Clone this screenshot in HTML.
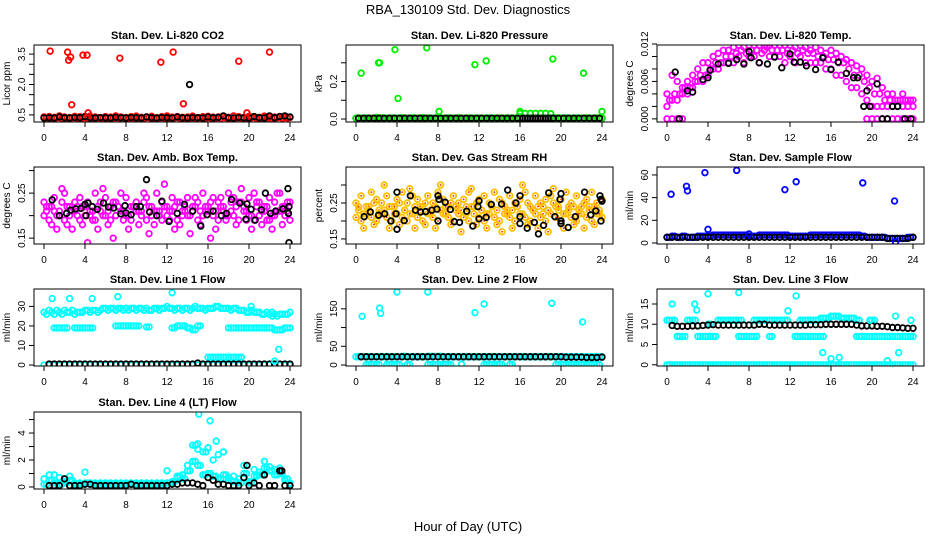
<!DOCTYPE html>
<html><head><meta charset="utf-8">
<style>
html,body{margin:0;padding:0;background:#fff;}
svg{display:block;font-family:"Liberation Sans",Arial,sans-serif;}
</style></head>
<body>
<svg id="chart" width="936" height="540" viewBox="0 0 936 540">
<text x="468" y="14" text-anchor="middle" font-size="13">RBA_130109  Std. Dev. Diagnostics</text>
<text x="468" y="531" text-anchor="middle" font-size="13">Hour of Day (UTC)</text>
</svg>
<script>
const H=[0,0.5,1,1.5,2,2.5,3,3.5,4,4.5,5,5.5,6,6.5,7,7.5,8,8.5,9,9.5,10,10.5,11,11.5,12,12.5,13,13.5,14,14.5,15,15.5,16,16.5,17,17.5,18,18.5,19,19.5,20,20.5,21,21.5,22,22.5,23,23.5,24];
const Hq=[0.25,0.75,1.25,1.75,2.25,2.75,3.25,3.75,4.25,4.75,5.25,5.75,6.25,6.75,7.25,7.75,8.25,8.75,9.25,9.75,10.25,10.75,11.25,11.75,12.25,12.75,13.25,13.75,14.25,14.75,15.25,15.75,16.25,16.75,17.25,17.75,18.25,18.75,19.25,19.75,20.25,20.75,21.25,21.75,22.25,22.75,23.25,23.75];
const xTicks=[0,4,8,12,16,20,24];

// CO2
const co2Red=[0.4,0.42,0.38,0.45,0.4,0.37,0.43,0.41,0.38,0.44,0.4,0.36,0.42,0.39,0.45,0.4,0.37,0.41,0.44,0.38,0.4,0.43,0.36,0.41,0.45,0.39,0.42,0.38,0.4,0.44,0.37,0.41,0.43,0.39,0.4,0.42,0.38,0.45,0.41,0.37,0.43,0.4,0.38,0.44,0.41,0.39,0.42,0.4,0.38];
const co2Red2=[0.35,0.33,0.36,0.32,0.34,0.36,0.33,0.35,0.32,0.34,0.36,0.33,0.35,0.34,0.32,0.36,0.33,0.35,0.34,0.32,0.36,0.33,0.35,0.34,0.32,0.36,0.33,0.35,0.34,0.32,0.36,0.33,0.35,0.34,0.32,0.36,0.33,0.35,0.34,0.32,0.36,0.33,0.35,0.34,0.32,0.36,0.33,0.35];
const co2Black=[0.35,0.36,0.35,0.4,0.36,0.35,0.37,0.36,0.42,0.36,0.35,0.37,0.36,0.35,0.38,0.36,0.35,0.37,0.36,0.35,0.4,0.36,0.35,0.37,0.36,0.35,0.4,0.36,0.35,0.37,0.36,0.35,0.4,0.36,0.38,0.45,0.36,0.35,0.37,0.36,0.35,0.42,0.36,0.35,0.45,0.36,0.42,0.45,0.4];
const co2Out=[[0.6,3.65],[2.3,3.6],[2.4,3.2],[2.6,3.35],[2.7,1.0],[3.8,3.45],[4.2,3.45],[4.3,0.6],[7.4,3.3],[11.4,3.1],[12.6,3.6],[13.6,1.05],[19.0,3.15],[19.8,0.6],[22.0,3.6]];
const co2BlkOut=[[14.2,2.0]];

// Pressure
const presGreen=[0.005,0.005,0.006,0.005,0.008,0.006,0.005,0.006,0.005,0.007,0.005,0.006,0.005,0.007,0.006,0.005,0.006,0.005,0.006,0.005,0.007,0.005,0.006,0.005,0.006,0.005,0.006,0.005,0.006,0.005,0.006,0.005,0.03,0.03,0.03,0.03,0.03,0.03,0.028,0.006,0.005,0.006,0.005,0.006,0.005,0.006,0.005,0.006,0.005];
const presBlack=[0.004,0.004,0.004,0.004,0.004,0.004,0.004,0.004,0.004,0.004,0.004,0.004,0.004,0.004,0.004,0.004,0.004,0.004,0.004,0.004,0.004,0.004,0.004,0.004,0.004,0.004,0.004,0.004,0.004,0.004,0.004,0.004,0.004,0.004,0.004,0.004,0.004,0.004,0.004,0.004,0.004,0.004,0.004,0.004,0.004,0.004,0.004,0.004,0.004];
const presOut=[[0.5,0.245],[2.2,0.3],[2.3,0.3],[3.8,0.37],[4.1,0.11],[6.9,0.38],[8.1,0.04],[11.6,0.29],[12.7,0.31],[16.0,0.04],[19.2,0.32],[22.2,0.245],[24,0.04]];

// Temp
const tempHi=[0.004,0.007,0.006,0.005,0.006,0.007,0.008,0.009,0.009,0.01,0.0105,0.011,0.011,0.0115,0.0118,0.0115,0.0118,0.0118,0.0118,0.0118,0.0118,0.0118,0.0118,0.0118,0.0118,0.0115,0.0118,0.0115,0.011,0.0115,0.011,0.0105,0.011,0.0105,0.01,0.0095,0.009,0.0085,0.008,0.007,0.006,0.0065,0.005,0.004,0.004,0.003,0.004,0.003,0.003];
const tempMid=[0.003,0.004,0.004,0.005,0.005,0.006,0.007,0.007,0.008,0.009,0.009,0.01,0.01,0.0105,0.011,0.0105,0.011,0.011,0.0105,0.0115,0.011,0.011,0.011,0.0105,0.011,0.0105,0.011,0.0105,0.0105,0.01,0.01,0.0095,0.0095,0.009,0.009,0.008,0.007,0.007,0.006,0.005,0.004,0.004,0.003,0.003,0.003,0.003,0.003,0.003,0.003];
const tempLo=[0.002,0.003,0.003,0.004,0.004,0.005,0.006,0.006,0.007,0.008,0.008,0.009,0.009,0.009,0.01,0.009,0.01,0.01,0.009,0.011,0.01,0.01,0.01,0.009,0.01,0.009,0.01,0.009,0.009,0.009,0.009,0.008,0.008,0.007,0.007,0.006,0.005,0.005,0.004,0.003,0.002,0.002,0.002,0.002,0.002,0.002,0.002,0.002,0.002];
const tempZero=[0,0,0,0,null,null,null,null,null,null,null,null,null,null,null,null,null,null,null,null,null,null,null,null,null,null,null,null,null,null,null,null,null,null,null,null,null,null,null,0,0,0,0,0,0,0,0,0,0];
const tempBlk=[[0.8,0.0075],[1.2,0],[2.0,0.0045],[2.5,0.0043],[3.5,0.0063],[4.0,0.0066],[4.2,0.0078],[5.0,0.0088],[6.0,0.0089],[6.8,0.0095],[7.5,0.0088],[8.0,0.0108],[8.2,0.0098],[9.0,0.0090],[9.8,0.0088],[10.5,0.0099],[11.2,0.0082],[12.0,0.0104],[12.4,0.0091],[13.0,0.0091],[13.6,0.0085],[14.5,0.0079],[15.2,0.0098],[16.0,0.0079],[16.7,0.0091],[17.5,0.0073],[18.2,0.0066],[18.6,0.0066],[19.5,0.0045],[19.2,0.002],[19.8,0.002],[20.5,0.0056],[21.0,0],[21.5,0],[22.0,0.002],[22.5,0.002],[23.2,0],[23.8,0]];

// Amb box
const ambA=[0.23,0.22,0.24,0.21,0.25,0.22,0.23,0.24,0.22,0.21,0.25,0.23,0.24,0.22,0.23,0.25,0.24,0.22,0.23,0.21,0.24,0.22,0.25,0.23,0.22,0.24,0.23,0.21,0.24,0.22,0.23,0.25,0.22,0.24,0.23,0.22,0.25,0.24,0.23,0.22,0.24,0.25,0.23,0.22,0.24,0.23,0.25,0.22,0.23];
const ambB=[0.2,0.19,0.21,0.2,0.19,0.2,0.21,0.19,0.2,0.2,0.19,0.21,0.2,0.19,0.2,0.21,0.2,0.19,0.21,0.2,0.19,0.2,0.21,0.19,0.2,0.21,0.19,0.2,0.2,0.21,0.19,0.2,0.21,0.2,0.19,0.21,0.2,0.2,0.19,0.21,0.2,0.19,0.2,0.21,0.19,0.2,0.21,0.2,0.19];
const ambC=[0.22,0.18,0.17,0.26,0.18,0.17,0.22,0.18,0.14,0.19,0.17,0.26,0.18,0.15,0.22,0.19,0.17,0.22,0.18,0.25,0.16,0.18,0.21,0.27,0.19,0.17,0.18,0.22,0.16,0.24,0.18,0.21,0.15,0.17,0.24,0.19,0.23,0.18,0.26,0.19,0.17,0.23,0.18,0.19,0.17,0.25,0.18,0.23];
const ambD=[0.21,0.22,0.2,0.23,0.22,0.21,0.2,0.22,0.23,0.21,0.22,0.2,0.21,0.23,0.22,0.21,0.2,0.22,0.21,0.23,0.22,0.21,0.2,0.22,0.21,0.22,0.23,0.21,0.2,0.22,0.21,0.22,0.23,0.21,0.22,0.2,0.21,0.22,0.23,0.21,0.2,0.22,0.21,0.22,0.2,0.21,0.22,0.21];
const ambBlk=[[0.8,0.235],[1.5,0.2],[2.2,0.205],[2.6,0.212],[3.1,0.215],[3.6,0.216],[4.0,0.225],[4.1,0.2],[4.3,0.228],[4.7,0.22],[5.2,0.214],[5.8,0.228],[6.3,0.219],[6.8,0.217],[7.5,0.204],[7.9,0.222],[8.0,0.206],[8.5,0.202],[9.0,0.22],[9.4,0.22],[10.0,0.28],[10.3,0.208],[11.0,0.2],[11.5,0.232],[12.2,0.187],[13.0,0.205],[13.7,0.225],[14.5,0.21],[15.3,0.177],[15.9,0.202],[16.5,0.21],[17.3,0.2],[17.8,0.205],[18.3,0.236],[19.1,0.228],[19.7,0.192],[19.8,0.226],[20.2,0.214],[20.6,0.19],[21.2,0.213],[21.6,0.25],[22.1,0.205],[22.6,0.21],[23.3,0.215],[23.8,0.26],[23.9,0.22],[23.85,0.205],[23.9,0.14]];

// RH
const rhA=[0.25,0.27,0.24,0.28,0.26,0.25,0.27,0.24,0.26,0.28,0.25,0.27,0.26,0.24,0.27,0.25,0.28,0.26,0.24,0.27,0.25,0.26,0.28,0.24,0.26,0.27,0.25,0.28,0.26,0.24,0.27,0.25,0.26,0.28,0.24,0.27,0.25,0.26,0.27,0.24,0.26,0.28,0.25,0.27,0.24,0.26,0.28,0.25,0.26];
const rhB=[0.21,0.2,0.22,0.21,0.2,0.22,0.21,0.2,0.22,0.21,0.2,0.22,0.21,0.2,0.22,0.21,0.2,0.22,0.21,0.2,0.22,0.21,0.2,0.22,0.21,0.2,0.22,0.21,0.2,0.22,0.21,0.2,0.22,0.21,0.2,0.22,0.21,0.2,0.22,0.21,0.2,0.22,0.21,0.2,0.22,0.21,0.2,0.22,0.21];
const rhC=[0.23,0.18,0.24,0.19,0.23,0.3,0.18,0.24,0.19,0.23,0.29,0.18,0.24,0.19,0.23,0.18,0.3,0.24,0.19,0.23,0.17,0.24,0.29,0.19,0.23,0.18,0.24,0.19,0.17,0.23,0.18,0.24,0.3,0.19,0.23,0.18,0.24,0.17,0.29,0.23,0.18,0.24,0.19,0.23,0.18,0.24,0.19,0.23];
const rhD=[0.24,0.22,0.23,0.25,0.22,0.23,0.24,0.22,0.25,0.23,0.22,0.24,0.23,0.25,0.22,0.24,0.23,0.22,0.25,0.24,0.23,0.22,0.24,0.25,0.23,0.22,0.24,0.23,0.25,0.22,0.23,0.24,0.22,0.25,0.23,0.24,0.22,0.23,0.25,0.24,0.22,0.23,0.24,0.22,0.25,0.23,0.24,0.22];
const rhBlk=[[0.8,0.212],[1.4,0.225],[2.2,0.216],[2.8,0.22],[3.4,0.2],[4.0,0.28],[3.9,0.22],[4.0,0.177],[4.7,0.201],[5.3,0.27],[5.8,0.23],[6.3,0.225],[6.8,0.226],[7.4,0.23],[7.9,0.233],[8.0,0.27],[8.1,0.26],[8.0,0.2],[8.7,0.252],[9.2,0.232],[9.6,0.198],[10.1,0.196],[10.8,0.227],[11.4,0.186],[12.0,0.256],[11.9,0.24],[12.0,0.206],[12.7,0.21],[13.2,0.246],[14.2,0.247],[14.8,0.286],[15.6,0.25],[16.0,0.27],[16.0,0.212],[16.0,0.193],[16.7,0.18],[17.4,0.196],[17.8,0.164],[18.3,0.188],[18.8,0.278],[19.4,0.212],[20.0,0.276],[19.9,0.26],[20.0,0.2],[20.0,0.193],[20.7,0.182],[21.4,0.212],[22.3,0.28],[22.9,0.217],[23.4,0.228],[23.8,0.27],[23.9,0.26],[24,0.255],[23.9,0.2]];

// Sample flow
const sfBlue=[5,6,5,6,5,5,6,6,6,7,7,7,7,7,7,7,6,6,7,7,7,7,7,7,6,6,6,6,7,7,7,7,7,7,7,7,7,7,6,5,5,5,5,4,4,4,4,5,5];
const sfBlack=[5,5,5,5,5,5,5,5,5,5,5,5,5,5,5,5,5,5,5,5,5,5,5,5,5,5,5,5,5,5,5,5,5,5,5,5,5,5,5,5,5,5,5,4,4,4,4,4,5];
const sfOut=[[0.4,43],[1.9,50],[2.0,46],[3.7,62],[4.0,12],[6.8,64],[8.0,8],[11.5,47],[12.6,54],[19.1,53],[22.2,37],[22.3,1]];

// Line 1
const l1Top=[27,28,26,27,28,27,26,27,28,27,28,28,29,29,28,29,29,29,28,29,29,28,29,29,30,29,29,28,29,29,29,29,29,29,30,29,29,29,28,28,27,27,27,26,26,26,26,26,27];
const l1Top2=[26,27,28,26,27,28,27,27,28,28,27,29,28,29,29,28,28,29,29,28,28,29,28,29,29,28,29,29,28,30,29,28,29,30,29,29,28,29,28,27,28,27,26,27,27,25,26,26];
const l1Mid=[null,null,19,19,19,null,19,19,19,19,null,null,null,null,20,20,20,20,20,null,19.5,null,null,null,null,19,20,20,19,18,20,null,null,null,null,null,19,19,19,19,19,19,19,19,19,18,18,19,19];
const l1Four=[null,null,null,null,null,null,null,null,null,null,null,null,null,null,null,null,null,null,null,null,null,null,null,null,null,null,null,null,null,null,null,null,4,4,4,4,4,4,4,null,null,null,null,null,null,null,null,null,null];
const l1Zero=[0,0,0,0,0,0,0,0,0,0,0,0,0,0,0,0,0,0,0,0,0,0,0,0,0,0,0,0,0,0,0,0,0,0,0,0,0,0,0,0,0,0,0,0,0,0,0,0,0];
const l1Black=[null,0.5,0.5,0.5,0.5,0.5,0.5,0.5,0.5,0.5,0.5,0.5,0.5,0.5,0.5,0.5,0.5,0.5,0.5,0.5,0.5,0.5,0.5,0.5,0.5,0.5,0.5,0.5,0.5,0.5,1,0.5,0.5,0.5,0.5,0.5,0.5,0.5,0.5,0.5,0.5,0.5,0.5,0.5,0.5,0.5,0.5,0.5,0.5];
const l1Out=[[0.8,34],[2.5,34],[4.7,34],[7.2,35],[12.5,37],[8.0,29],[20.2,30],[22.5,2],[22.9,8],[22.3,25]];

// Line 2
const l2Band=[22,22,22,22,22,22,22,22,22,23,22,22,22,22,23,23,23,22,22,22,22,22,22,22,22,22,22,22,22,22,22,22,22,22,22,22,22,22,22,22,22,22,22,22,22,22,22,22,22];
const l2Zero=[null,null,1,1,1,null,1,1,1,null,1,null,null,null,1,1,1,1,1,null,null,null,null,null,null,1,1,1,1,null,1,null,null,null,null,null,null,null,null,1,1,1,1,1,1,1,1,1,null];
const l2Black=[null,22,22,22,22,22,22,22,22,22,22,22,22,22,22,22,22,22,22,22,22,22,22,22,22,22,22,22,22,22,22,22,22,22,22,22,22,22,22,22,22,21,21,21,21,20,20,20,21];
const l2Out=[[0.6,130],[2.3,152],[2.4,138],[4.0,195],[7.0,195],[10.3,2],[11.6,140],[12.5,163],[19.1,165],[22.1,115]];

// Line 3
const l3Hi=[11,11,null,null,11,11,null,null,10,null,11,11,11,11,11,null,null,11,11,11,11,11,11,11,null,null,11,11,11,11,11.5,11.5,12,12,11.5,11.5,11.5,11,null,null,11,null,null,null,null,null,null,null,null];
const l3Lo=[null,null,7,7,null,null,7,7,7,7,null,null,null,null,7,7,7,7,null,null,7,null,null,null,null,7,7,7,7,7,7,null,null,null,null,null,null,7,7,7,7,7,7,7,7,7,7,7,7];
const l3Zero=[0,0,0,0,0,0,0,0,0,0,0,0,0,0,0,0,0,0,0,0,0,0,0,0,0,0,0,0,0,0,0,0,0,0,0,0,0,0,0,0,0,0,0,0,0,0,0,0,0];
const l3Black=[null,9.7,9.5,9.5,9.5,9.6,9.6,9.7,9.8,9.9,9.8,9.8,9.8,9.8,9.8,9.8,9.8,9.8,10,10,9.8,9.8,9.8,9.8,9.8,9.8,9.8,9.8,9.9,9.9,9.9,10,10,10,10,10,10,9.8,9.6,9.6,9.6,9.5,9.5,9.4,9.2,9.2,9.1,9.0,9.0];
const l3Out=[[0.5,15],[2.7,15],[2.9,13.5],[4.0,17.5],[7.0,17.8],[11.8,13.3],[12.6,17],[16.0,1.5],[15.2,3],[16.8,1.8],[19.8,11],[22.3,12],[22.6,3],[23.8,11],[21.5,1]];

// Line 4
const l4Cyan=[0.6,0.9,0.9,0.7,0.4,0.8,0.3,0.3,1.1,0.3,0.3,0.3,0.3,0.3,0.3,0.3,0.3,0.3,0.3,0.3,0.3,0.3,0.3,0.3,1.2,0.3,0.7,0.9,1.6,3.1,2.8,2.6,2.9,2.0,2.4,2.6,0.7,0.8,0.6,1.6,0.4,1.3,1.1,1.9,1.5,1.3,1.4,0.5,0.2];
const l4Cyan2=[0.2,0.5,0.3,0.2,0.3,0.5,0.2,0.2,0.3,0.2,0.2,0.2,0.2,0.2,0.2,0.2,0.2,0.2,0.2,0.2,0.2,0.2,0.2,0.2,0.3,0.4,0.8,0.6,1.2,1.9,1.6,0.9,1.0,0.8,0.6,0.9,0.5,0.4,0.3,1.0,0.3,0.8,0.9,1.4,1.2,0.9,1.0,0.6,0.3];
const l4Black=[null,0.1,0.1,0.1,0.6,0.1,0.1,0.1,0.2,0.2,0.1,0.1,0.1,0.1,0.1,0.1,0.1,0.2,0.1,0.1,0.1,0.1,0.1,0.1,0.1,0.2,0.2,0.3,0.3,0.3,0.2,0.1,0.7,0.5,0.2,0.2,0.1,0.1,0.1,0.7,0.1,0.3,0.1,0.9,0.1,0.1,1.2,0.1,0.1];
const l4Out=[[15.1,5.4],[16.2,4.9],[16.8,3.4],[15.0,3.2],[14.8,3.1],[16.0,2.9],[15.8,2.6],[17.5,2.6],[19.8,1.6]];
const l4BlkOut=[[19.8,1.6],[23.2,1.2],[21.5,0.9]];

const NS='http://www.w3.org/2000/svg';
const svg=document.getElementById('chart');
const PW=267,PH=77;
const colX=[34,346,657], rowY=[45,167,289,412];

function mk(tag,attrs){const e=document.createElementNS(NS,tag);for(const k in attrs)e.setAttribute(k,attrs[k]);return e;}

const panels=[
 {title:'Stan. Dev. Li-820 CO2',ylab:'Licor ppm',c:0,r:0,ymin:0.15,ymax:3.95,ticks:[0.5,1,1.5,2,2.5,3,3.5],labels:{'0.5':'0.5','2':'2.0','3.5':'3.5'},
  series:[{t:H,v:co2Red,col:'#ff0000'},{t:Hq,v:co2Red2,col:'#ff0000'},{t:H,v:co2Black,col:'#000'},{pairs:co2Out,col:'#ff0000'},{pairs:co2BlkOut,col:'#000'}]},
 {title:'Stan. Dev. Li-820 Pressure',ylab:'kPa',c:1,r:0,ymin:-0.016,ymax:0.395,ticks:[0,0.1,0.2,0.3],labels:{'0':'0.0','0.2':'0.2'},
  series:[{t:H,v:presBlack,col:'#000'},{t:H,v:presGreen,col:'#00ee00'},{t:Hq,v:presBlack,col:'#000'},{pairs:presOut,col:'#00ee00'}]},
 {title:'Stan. Dev. Li-820 Temp.',ylab:'degrees C',c:2,r:0,ymin:-0.0005,ymax:0.01184,ticks:[0,0.002,0.004,0.006,0.008,0.01,0.012],labels:{'0':'0.000','0.006':'0.006','0.012':'0.012'},
  series:[{t:H,v:tempHi,col:'#ff00ff'},{t:Hq,v:tempMid,col:'#ff00ff'},{t:H,v:tempLo,col:'#ff00ff'},{t:H,v:tempZero,col:'#ff00ff'},{pairs:tempBlk,col:'#000'}]},
 {title:'Stan. Dev. Amb. Box Temp.',ylab:'degrees C',c:0,r:1,ymin:0.137,ymax:0.308,ticks:[0.15,0.2,0.25,0.3],labels:{'0.15':'0.15','0.25':'0.25'},
  series:[{t:H,v:ambA,col:'#ff00ff'},{t:H,v:ambB,col:'#ff00ff'},{t:Hq,v:ambC,col:'#ff00ff'},{t:Hq,v:ambD,col:'#ff00ff'},{pairs:ambBlk,col:'#000'}]},
 {title:'Stan. Dev. Gas Stream RH',ylab:'percent',c:1,r:1,ymin:0.136,ymax:0.35,ticks:[0.15,0.2,0.25,0.3],labels:{'0.15':'0.15','0.25':'0.25'},
  series:[{t:H,v:rhA,col:'#ffc000',inner:'#ff2000'},{t:H,v:rhB,col:'#ffc000',inner:'#ff2000'},{t:Hq,v:rhC,col:'#ffc000',inner:'#ff2000'},{t:Hq,v:rhD,col:'#ffc000',inner:'#ff2000'},{pairs:rhBlk,col:'#000'}]},
 {title:'Stan. Dev. Sample Flow',ylab:'ml/min',c:2,r:1,ymin:-0.9,ymax:67,ticks:[0,20,40,60],labels:{'0':'0','20':'20','40':'40','60':'60'},
  series:[{t:H,v:sfBlue,col:'#0000ff'},{t:Hq,v:sfBlue,col:'#0000ff'},{t:H,v:sfBlack,col:'#000'},{pairs:sfOut,col:'#0000ff'}]},
 {title:'Stan. Dev. Line 1 Flow',ylab:'ml/min',c:0,r:2,ymin:-0.5,ymax:38.9,ticks:[0,10,20,30],labels:{'0':'0','10':'10','20':'20','30':'30'},
  series:[{t:H,v:l1Top,col:'#00ffff'},{t:Hq,v:l1Top2,col:'#00ffff'},{t:H,v:l1Mid,col:'#00ffff'},{t:Hq,v:l1Mid,col:'#00ffff'},{t:H,v:l1Four,col:'#00ffff'},{t:Hq,v:l1Four,col:'#00ffff'},{t:H,v:l1Zero,col:'#00ffff'},{t:H,v:l1Black,col:'#000'},{pairs:l1Out,col:'#00ffff'}]},
 {title:'Stan. Dev. Line 2 Flow',ylab:'ml/min',c:1,r:2,ymin:-2.7,ymax:203,ticks:[0,50,100,150],labels:{'0':'0','50':'50','150':'150'},
  series:[{t:H,v:l2Band,col:'#00ffff'},{t:Hq,v:l2Band,col:'#00ffff'},{t:H,v:l2Zero,col:'#00ffff'},{t:Hq,v:l2Zero,col:'#00ffff'},{t:H,v:l2Black,col:'#000'},{pairs:l2Out,col:'#00ffff'}]},
 {title:'Stan. Dev. Line 3 Flow',ylab:'ml/min',c:2,r:2,ymin:-0.3,ymax:18.7,ticks:[0,5,10,15],labels:{'0':'0','5':'5','10':'10','15':'15'},
  series:[{t:H,v:l3Hi,col:'#00ffff'},{t:Hq,v:l3Hi,col:'#00ffff'},{t:H,v:l3Lo,col:'#00ffff'},{t:Hq,v:l3Lo,col:'#00ffff'},{t:H,v:l3Zero,col:'#00ffff'},{t:Hq,v:l3Zero,col:'#00ffff'},{t:H,v:l3Black,col:'#000'},{pairs:l3Out,col:'#00ffff'}]},
 {title:'Stan. Dev. Line 4 (LT) Flow',ylab:'ml/min',c:0,r:3,ymin:-0.15,ymax:5.56,ticks:[0,1,2,3,4,5],labels:{'0':'0','2':'2','4':'4'},
  series:[{t:H,v:l4Cyan,col:'#00ffff'},{t:Hq,v:l4Cyan2,col:'#00ffff'},{t:H,v:l4Cyan2,col:'#00ffff'},{pairs:l4Out,col:'#00ffff'},{t:H,v:l4Black,col:'#000'},{pairs:l4BlkOut,col:'#000'}]}
];

panels.forEach((p,pi)=>{
  const L=colX[p.c], T=rowY[p.r];
  const g=mk('g',{});
  
  
  svg.appendChild(g);
  const xs=t=>L+10+t*(246/24);
  const ys=v=>T+PH-(v-p.ymin)/(p.ymax-p.ymin)*PH;
  const clipId='clip'+pi;
  const cp=mk('clipPath',{id:clipId});cp.appendChild(mk('rect',{x:L,y:T,width:PW,height:PH}));g.appendChild(cp);
  const pts=mk('g',{'clip-path':'url(#'+clipId+')'});
  
  
  g.appendChild(pts);
  function dot(t,v,col,inner){
    if(v===null||v===undefined)return;
    const c=mk('circle',{cx:xs(t),cy:ys(v),r:2.8,fill:'none',stroke:col,'stroke-width':1.8});
    
    
    pts.appendChild(c);
    if(inner){const d=mk('circle',{cx:xs(t),cy:ys(v),r:0.9,fill:inner});pts.appendChild(d);}
  }
  p.series.forEach(s=>{
    if(s.pairs) s.pairs.forEach(q=>dot(q[0],q[1],s.col,s.inner));
    else s.v.forEach((v,i)=>{ if(i<s.t.length) dot(s.t[i],v,s.col,s.inner); });
  });
  const box=mk('rect',{x:L,y:T,width:PW,height:PH,fill:'none',stroke:'#000','stroke-width':1});
  
  
  g.appendChild(box);
  const tt=mk('text',{x:L+PW/2,y:T-6,'text-anchor':'middle','font-size':11,'font-weight':'bold'});
  tt.textContent=p.title;
  
  
  g.appendChild(tt);
  xTicks.forEach(t=>{
    const x=xs(t);
    g.appendChild(mk('line',{x1:x,x2:x,y1:T+PH,y2:T+PH+5,stroke:'#000'}));
    const lb=mk('text',{x:x,y:T+PH+19,'text-anchor':'middle','font-size':10});
    lb.textContent=t;
    
    
    g.appendChild(lb);
  });
  p.ticks.forEach(v=>{
    const y=ys(v);
    g.appendChild(mk('line',{x1:L-5,x2:L,y1:y,y2:y,stroke:'#000'}));
    const key=String(v);
    if(p.labels[key]!==undefined){
      const lb=mk('text',{x:L-9,y:y,'text-anchor':'middle','font-size':10,transform:'rotate(-90 '+(L-9)+' '+y+')'});
      lb.textContent=p.labels[key];
      
      
      g.appendChild(lb);
    }
  });
  const yl=mk('text',{x:L-24,y:T+PH/2,'text-anchor':'middle','font-size':10,transform:'rotate(-90 '+(L-24)+' '+(T+PH/2)+')'});
  yl.textContent=p.ylab;
  
  
  g.appendChild(yl);
});
</script>
</body></html>
